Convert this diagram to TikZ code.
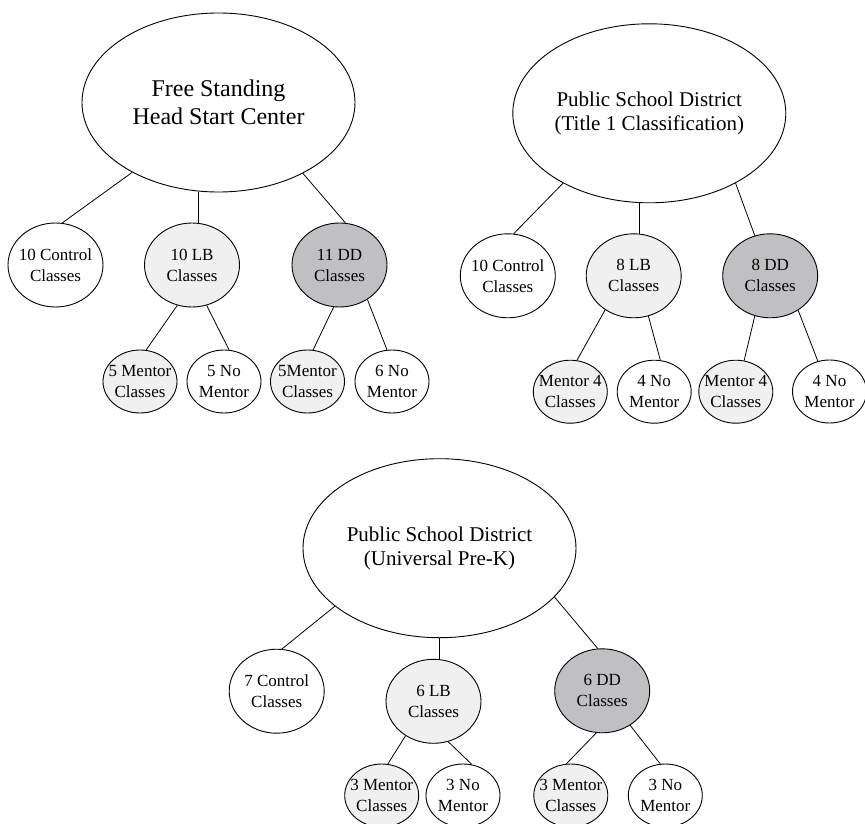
\documentclass[tikz,border=0pt]{standalone}
\usepackage{fontspec}
\setmainfont{Liberation Serif}
\usetikzlibrary{shapes.geometric,backgrounds}
\definecolor{lbfill}{RGB}{240,240,240}
\definecolor{ddfill}{RGB}{192,192,194}
\tikzset{
  ell/.style={ellipse, draw=black, line width=0.9pt, inner sep=0pt, fill=white},
  bigell/.style={ell, minimum width=273pt, minimum height=179pt},
  midell/.style={ell, minimum width=95pt, minimum height=84pt},
  smallell/.style={ell, minimum width=74pt, minimum height=63pt},
  lbc/.style={fill=lbfill},
  ddc/.style={fill=ddfill},
  smtxt/.style={font=\fontsize{17}{21}\selectfont, align=center, inner sep=0pt},
  bigtxt/.style={font=\fontsize{24}{28}\selectfont, align=center, inner sep=0pt},
  tttxt/.style={font=\fontsize{21}{24.3}\selectfont, align=center, inner sep=0pt},
  conn/.style={line width=0.8pt, draw=black},
}
\begin{document}
\begin{tikzpicture}[x=1pt,y=-1pt]
\useasboundingbox (0,0) rectangle (865,824);

% ---------- Tree 1 ----------
\node[bigell, label={[bigtxt]center:{Free Standing\\Head Start Center}}] (T1) at (218.5,102.5) {};
\node[midell, label={[smtxt]center:{10 Control\\Classes}}] (C1) at (55.5,265) {};
\node[midell, lbc, label={[smtxt]center:{10 LB\\Classes}}] (L1) at (192,265) {};
\node[midell, ddc, label={[smtxt]center:{11 DD\\Classes}}] (D1) at (339.5,265) {};
\node[smallell, lbc, label={[smtxt]center:{5 Mentor\\Classes}}] (M1a) at (140,381.5) {};
\node[smallell, label={[smtxt]center:{5 No\\Mentor}}] (N1a) at (224,381.5) {};
\node[smallell, lbc, label={[smtxt]center:{5Mentor\\Classes}}] (M1b) at (307.5,381.5) {};
\node[smallell, label={[smtxt]center:{6 No\\Mentor}}] (N1b) at (392,381.5) {};

% ---------- Tree 2 ----------
\node[bigell, label={[tttxt]center:{Public School District\\(Title 1 Classification)}}] (T2) at (649.3,113.3) {};
\node[midell, label={[smtxt]center:{10 Control\\Classes}}] (C2) at (507.8,275.8) {};
\node[midell, lbc, label={[smtxt]center:{8 LB\\Classes}}] (L2) at (633.7,275.8) {};
\node[midell, ddc, label={[smtxt]center:{8 DD\\Classes}}] (D2) at (770.2,275.8) {};
\node[smallell, lbc, label={[smtxt]center:{Mentor 4\\Classes}}] (M2a) at (570.3,391.7) {};
\node[smallell, label={[smtxt]center:{4 No\\Mentor}}] (N2a) at (654.2,391.7) {};
\node[smallell, lbc, label={[smtxt]center:{Mentor 4\\Classes}}] (M2b) at (735.8,391.7) {};
\node[smallell, label={[smtxt]center:{4 No\\Mentor}}] (N2b) at (829.5,391.5) {};

% ---------- Tree 3 ----------
\node[bigell, label={[tttxt]center:{Public School District\\(Universal Pre-K)}}] (T3) at (439.5,548.2) {};
\node[midell, label={[smtxt]center:{7 Control\\Classes}}] (C3) at (276.7,691.2) {};
\node[midell, lbc, label={[smtxt]center:{6 LB\\Classes}}] (L3) at (433.5,701.3) {};
\node[midell, ddc, label={[smtxt]center:{6 DD\\Classes}}] (D3) at (602.2,690.8) {};
\node[smallell, lbc, label={[smtxt]center:{3 Mentor\\Classes}}] (M3a) at (381.7,795.5) {};
\node[smallell, label={[smtxt]center:{3 No\\Mentor}}] (N3a) at (463,795.5) {};
\node[smallell, lbc, label={[smtxt]center:{3 Mentor\\Classes}}] (M3b) at (570.8,795.5) {};
\node[smallell, label={[smtxt]center:{3 No\\Mentor}}] (N3b) at (665.3,795.5) {};

% ---------- connectors ----------
\begin{scope}[on background layer]
  % tree 1
  \draw[conn] (T1.219.8) -- (C1.81);
  \draw[conn] (L1.82) -- (L1.82 |- T1.south);
  \draw[conn] (T1.320.6) -- (D1.82.5);
  \draw[conn] (L1.250.8) -- (M1a.79);
  \draw[conn] (L1.290.9) -- (N1a.81);
  \draw[conn] (D1.262.5) -- (M1b.80);
  \draw[conn] (D1.309.6) -- (N1b.99);
  % tree 2
  \draw[conn] (T2.219) -- (C2.82.6);
  \draw[conn] (L2.82.9) -- (L2.82.9 |- T2.south);
  \draw[conn] (T2.321.1) -- (D2.111.3);
  \draw[conn] (L2.230.3) -- (M2a.78.6);
  \draw[conn] (L2.290.2) -- (N2a.79.6);
  \draw[conn] (D2.249.1) -- (M2b.75.5);
  \draw[conn] (D2.309.2) -- (N2b.111.3);
  % tree 3
  \draw[conn] (T3.209.2) -- (C3.83.2);
  \draw[conn] (L3.82.1) -- (L3.82.1 |- T3.south);
  \draw[conn] (T3.337.6) -- (D3.96.7);
  \draw[conn] (L3.231.3) -- (M3a.79.8);
  \draw[conn] (L3.290.6) -- (N3a.74.4);
  \draw[conn] (D3.262.6) -- (M3b.98.7);
  \draw[conn] (D3.309.6) -- (N3b.99.6);
\end{scope}
\end{tikzpicture}
\end{document}
